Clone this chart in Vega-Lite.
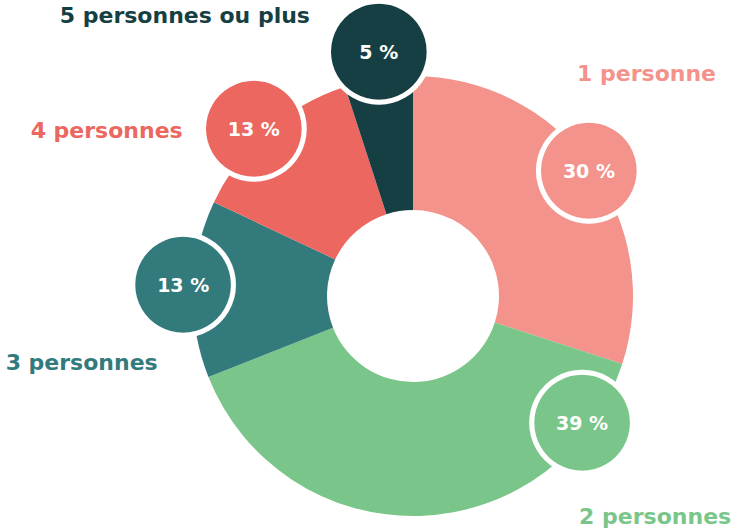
{
  "$schema": "https://vega.github.io/schema/vega-lite/v6.json",
  "autosize": "none",
  "width": 646,
  "height": 470,
  "padding": {"left": 90, "top": 61, "right": 0, "bottom": 0},
  "background": "white",
  "config": {"view": {"stroke": null}},
  "data": {
    "values": [
      {"category": "1 personne", "value": 30, "label": "30 %"},
      {"category": "2 personnes", "value": 39, "label": "39 %"},
      {"category": "3 personnes", "value": 13, "label": "13 %"},
      {"category": "4 personnes", "value": 13, "label": "13 %"},
      {"category": "5 personnes ou plus", "value": 5, "label": "5 %"}
    ]
  },
  "encoding": {
    "theta": {"field": "value", "type": "quantitative", "stack": true},
    "order": {"field": "category", "sort": "ascending"},
    "color": {
      "field": "category",
      "type": "nominal",
      "legend": null,
      "scale": {
        "domain": ["1 personne", "2 personnes", "3 personnes", "4 personnes", "5 personnes ou plus"],
        "range": ["#F4928C", "#7AC68A", "#337A7C", "#EB6760", "#163F44"]
      }
    }
  },
  "layer": [
    {"mark": {"type": "arc", "innerRadius": 86, "outerRadius": 220}},
    {
      "encoding": {"opacity": {"condition": {"test": "datum.category === '1 personne'", "value": 1}, "value": 0}},
      "layer": [
        {"mark": {"type": "text", "text": "●", "font": "DejaVu Sans", "fontSize": 132, "dy": -7, "radius": 215, "thetaOffset": 0.016, "stroke": "white", "strokeWidth": 5, "align": "center", "baseline": "middle"}},
        {"mark": {"type": "text", "font": "DejaVu Sans", "fontWeight": "bold", "fontSize": 19, "radius": 215, "thetaOffset": 0.016, "align": "center", "baseline": "middle"}, "encoding": {"text": {"field": "label"}, "color": {"value": "white"}}},
        {"mark": {"type": "text", "font": "DejaVu Sans", "fontWeight": "bold", "fontSize": 22, "radius": 322, "thetaOffset": -0.131, "align": "center", "baseline": "middle"}, "encoding": {"text": {"field": "category"}}}
      ]
    },
    {
      "encoding": {"opacity": {"condition": {"test": "datum.category === '2 personnes'", "value": 1}, "value": 0}},
      "layer": [
        {"mark": {"type": "text", "text": "●", "font": "DejaVu Sans", "fontSize": 132, "dy": -7, "radius": 212, "thetaOffset": -0.892, "stroke": "white", "strokeWidth": 5, "align": "center", "baseline": "middle"}},
        {"mark": {"type": "text", "font": "DejaVu Sans", "fontWeight": "bold", "fontSize": 19, "radius": 212, "thetaOffset": -0.892, "align": "center", "baseline": "middle"}, "encoding": {"text": {"field": "label"}, "color": {"value": "white"}}},
        {"mark": {"type": "text", "font": "DejaVu Sans", "fontWeight": "bold", "fontSize": 22, "radius": 328, "thetaOffset": -0.799, "align": "center", "baseline": "middle"}, "encoding": {"text": {"field": "category"}}}
      ]
    },
    {
      "encoding": {"opacity": {"condition": {"test": "datum.category === '3 personnes'", "value": 1}, "value": 0}},
      "layer": [
        {"mark": {"type": "text", "text": "●", "font": "DejaVu Sans", "fontSize": 132, "dy": -7, "radius": 230, "thetaOffset": 0.01, "stroke": "white", "strokeWidth": 5, "align": "center", "baseline": "middle"}},
        {"mark": {"type": "text", "font": "DejaVu Sans", "fontWeight": "bold", "fontSize": 19, "radius": 230, "thetaOffset": 0.01, "align": "center", "baseline": "middle"}, "encoding": {"text": {"field": "label"}, "color": {"value": "white"}}},
        {"mark": {"type": "text", "font": "DejaVu Sans", "fontWeight": "bold", "fontSize": 22, "radius": 338, "thetaOffset": -0.23, "align": "center", "baseline": "middle"}, "encoding": {"text": {"field": "category"}}}
      ]
    },
    {
      "encoding": {"opacity": {"condition": {"test": "datum.category === '4 personnes'", "value": 1}, "value": 0}},
      "layer": [
        {"mark": {"type": "text", "text": "●", "font": "DejaVu Sans", "fontSize": 132, "dy": -7, "radius": 230, "thetaOffset": -0.042, "stroke": "white", "strokeWidth": 5, "align": "center", "baseline": "middle"}},
        {"mark": {"type": "text", "font": "DejaVu Sans", "fontWeight": "bold", "fontSize": 19, "radius": 230, "thetaOffset": -0.042, "align": "center", "baseline": "middle"}, "encoding": {"text": {"field": "label"}, "color": {"value": "white"}}},
        {"mark": {"type": "text", "font": "DejaVu Sans", "fontWeight": "bold", "fontSize": 22, "radius": 348, "thetaOffset": -0.354, "align": "center", "baseline": "middle"}, "encoding": {"text": {"field": "category"}}}
      ]
    },
    {
      "encoding": {"opacity": {"condition": {"test": "datum.category === '5 personnes ou plus'", "value": 1}, "value": 0}},
      "layer": [
        {"mark": {"type": "text", "text": "●", "font": "DejaVu Sans", "fontSize": 132, "dy": -7, "radius": 245, "thetaOffset": 0.017, "stroke": "white", "strokeWidth": 5, "align": "center", "baseline": "middle"}},
        {"mark": {"type": "text", "font": "DejaVu Sans", "fontWeight": "bold", "fontSize": 19, "radius": 245, "thetaOffset": 0.017, "align": "center", "baseline": "middle"}, "encoding": {"text": {"field": "label"}, "color": {"value": "white"}}},
        {"mark": {"type": "text", "font": "DejaVu Sans", "fontWeight": "bold", "fontSize": 22, "radius": 361, "thetaOffset": -0.527, "align": "center", "baseline": "middle"}, "encoding": {"text": {"field": "category"}}}
      ]
    }
  ]
}
